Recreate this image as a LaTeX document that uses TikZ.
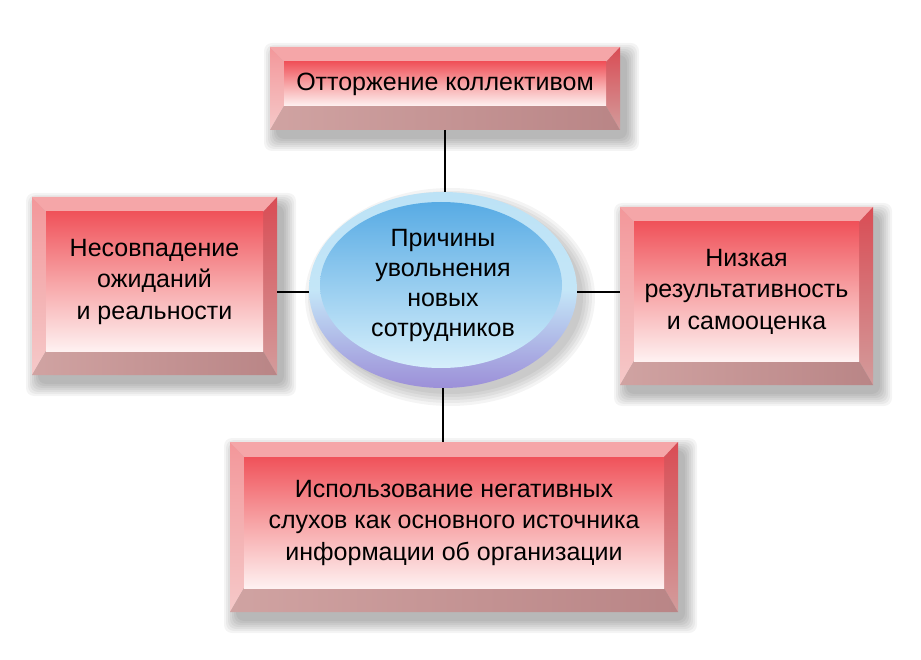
\documentclass[tikz,border=0pt]{standalone}
\usepackage{fontspec}
\setmainfont{Liberation Sans}
\usetikzlibrary{shapes.geometric}
\definecolor{bevtop}{HTML}{F5A6A8}
\definecolor{bevlefttop}{HTML}{F3979A}
\definecolor{bevleftbot}{HTML}{F5C9C9}
\definecolor{bevrighttop}{HTML}{D94C54}
\definecolor{bevrightbot}{HTML}{D39C9C}
\definecolor{bevbotleft}{HTML}{D0A3A2}
\definecolor{bevbotright}{HTML}{B98586}
\definecolor{facetop}{HTML}{F0525A}
\definecolor{facemid}{HTML}{F7A4A6}
\definecolor{facebot}{HTML}{FEF1F1}
\definecolor{rimtop}{HTML}{BCE2F6}
\definecolor{rimbot}{HTML}{9C8FD8}
\definecolor{ctrtop}{HTML}{58ABE4}
\definecolor{ctrbot}{HTML}{D6EFFB}
\tikzset{
  boxtext/.style={align=center, font=\fontsize{25}{31.5}\selectfont, text=black},
  facenode/.style={rectangle, inner sep=0pt, outer sep=0pt, top color=facetop, bottom color=facebot, middle color=facemid},
  outernode/.style={rectangle, inner sep=0pt, outer sep=0pt},
  link/.style={line width=2.5pt, black},
  shadowfill/.style={fill=black, opacity=0.045}
}
% name, x1, y1, x2, y2 (image coordinates, y downwards), text
\newcommand\bevbox[6]{%
  \foreach \s in {12,10,8,6,4,2,0}{
    \fill[shadowfill, rounded corners=8pt] ({#2+6-\s},{-(#3)-8+\s}) rectangle ({#4+7+\s},{-(#5)-9-\s});
  }
  \fill[bevtop] ({#2},{-(#3)}) -- ({#4},{-(#3)}) -- ({#4-14},{-(#3)-15}) -- ({#2+14},{-(#3)-15}) -- cycle;
  \shade[top color=bevlefttop, bottom color=bevleftbot] ({#2},{-(#3)}) -- ({#2+14},{-(#3)-15}) -- ({#2+14},{-(#5)+24}) -- ({#2},{-(#5)}) -- cycle;
  \shade[top color=bevrighttop, bottom color=bevrightbot] ({#4},{-(#3)}) -- ({#4},{-(#5)}) -- ({#4-14},{-(#5)+24}) -- ({#4-14},{-(#3)-15}) -- cycle;
  \shade[left color=bevbotleft, right color=bevbotright] ({#2},{-(#5)}) -- ({#4},{-(#5)}) -- ({#4-14},{-(#5)+24}) -- ({#2+14},{-(#5)+24}) -- cycle;
  \node[outernode, minimum width={#4-#2}, minimum height={#5-#3}] (#1) at ({(#2+#4)/2},{-(#3+#5)/2}) {};
  \node[facenode, minimum width={#4-#2-28}, minimum height={#5-#3-39}] (#1-face) at ({(#2+#4)/2},{-(#3+15+#5-24)/2}) {};
  \node[boxtext] (#1-text) at (#1-face.center) {#6};
}
\begin{document}
\begin{tikzpicture}[x=1pt,y=1pt]
\useasboundingbox (0,0) rectangle (921,-660);
\fill[white] (0,0) rectangle (921,-660);

% boxes
\bevbox{t}{270}{47}{620}{130}{Отторжение коллективом}
\bevbox{l}{32}{197}{277}{375}{Несовпадение\\ожиданий\\и реальности}
\bevbox{r}{620}{207}{873}{385}{Низкая\\результативность\\и самооценка}
\bevbox{b}{230}{442}{678}{612}{Использование негативных\\слухов как основного источника\\информации об организации}

% central ellipse
\foreach \s in {12,9,6,3,0}{
  \fill[shadowfill] (450,-297) ellipse ({133+\s} and {97+\s});
}
\shade[top color=rimtop, bottom color=rimbot, middle color=rimtop!70!ctrbot] (443,-290) ellipse (134 and 98);
\shade[top color=ctrtop, bottom color=ctrbot] (441,-285) ellipse (121 and 83);
\node[ellipse, minimum width=268, minimum height=196, inner sep=0pt, outer sep=0pt] (c) at (443,-290) {};
\node[boxtext, font=\fontsize{25}{30}\selectfont] (ct) at ([yshift=5]c.center) {Причины\\увольнения\\новых\\сотрудников};

% connectors
\draw[link] (t.south) -- (t.south |- c.north);
\draw[link] ([yshift=-2]c.west) -- ([yshift=-2]c.west -| l.east);
\draw[link] ([yshift=-2]c.east) -- ([yshift=-2]c.east -| r.west);
\draw[link] (c.south) -- (c.south |- b.north);
\end{tikzpicture}
\end{document}
